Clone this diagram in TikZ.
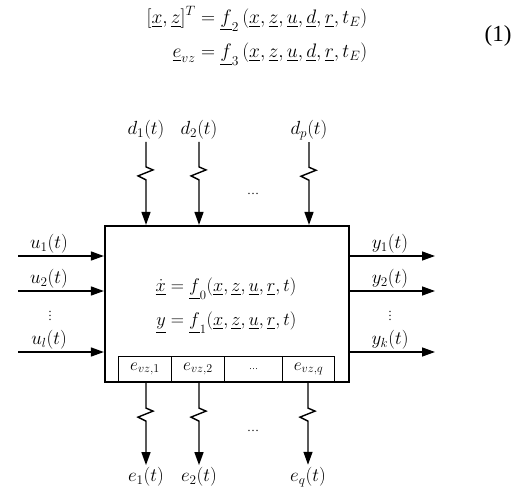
\RequirePackage{fix-cm}
\documentclass[tikz,border=0pt]{standalone}
\usepackage{amsmath}
\usepackage{fontspec}
\setmainfont{Liberation Serif}
\usetikzlibrary{arrows.meta}
\newcommand{\uv}[1]{\underline{#1}}
\begin{document}
\begin{tikzpicture}[x=1pt, y=1pt, >={Triangle[length=13pt, width=9pt]},
		sig/.style={->, line width=1.4pt},
		lbl/.style={font=\fontsize{17.28}{21}\selectfont, scale=1.1, inner sep=2pt},
		dots/.style={font=\fontsize{12}{14}\selectfont, inner sep=0pt, text height=8pt, text depth=0pt},
		cell/.style={draw, line width=1pt, minimum height=25, inner sep=0pt, font=\fontsize{17.28}{21}\selectfont}]
	\useasboundingbox (0,0) rectangle (519,491);
	
	% 1. 方程 (1)
	\node[font=\fontsize{20.74}{25}\selectfont, scale=0.94] (eqn) at (257,455)
		{$\begin{aligned}
			[\uv{x},\uv{z}]^T &= \uv{f}_2\,(\uv{x},\uv{z},\uv{u},\uv{d},\uv{r},t_E)\\[6pt]
			\uv{e}_{vz} &= \uv{f}_3\,(\uv{x},\uv{z},\uv{u},\uv{d},\uv{r},t_E)
		\end{aligned}$};
	\node[font=\fontsize{23}{26}\selectfont] (eqno) at (498,455) {(1)};
	
	% 2. 系统方框
	\node[draw, line width=2.2pt, minimum width=244, minimum height=156, inner sep=0pt] (box) at (227,187) {};
	\node[font=\fontsize{17.28}{21}\selectfont, scale=1.06] (fsys) at (226,186)
		{$\begin{aligned}
			\uv{\dot{x}} &= \uv{f}_0(\uv{x},\uv{z},\uv{u},\uv{r},t)\\[6pt]
			\uv{y} &= \uv{f}_1(\uv{x},\uv{z},\uv{u},\uv{r},t)
		\end{aligned}$};
	
	% 3. 误差格
	\foreach \n/\xa/\w/\lab in {c1/118/53/{$e_{vz,1}$}, c2/171/53/{$e_{vz,2}$}, c3/224/58/{\small\ldots}, cq/282/52/{$e_{vz,q}$}}
		\node[cell, minimum width=\w, anchor=south west] (\n) at (\xa,109) {\lab};
	
	% 4. 输入 u 与输出 y
	\foreach \n/\yy in {1/235, 2/200, l/139} {
		\coordinate (u\n) at (18,\yy);
		\draw[sig] (u\n) -- (u\n -| box.west);
		\node[lbl] (lu\n) at (49,\yy+12) {$u_\n(t)$};
	}
	\foreach \n/\yy in {1/235, 2/200, k/139} {
		\coordinate (y\n) at (435,\yy);
		\draw[sig] (y\n -| box.east) -- (y\n);
		\node[lbl] (ly\n) at (390,\yy+12) {$y_\n(t)$};
	}
	\node[dots] (vu) at (50,175) {$\vdots$};
	\node[dots] (vy) at (390,175) {$\vdots$};
	
	% 5. 扰动 d (上) 与误差 e (下)
	\foreach \n/\xx in {1/146, 2/199, p/309} {
		\node[lbl] (d\n) at (\xx,361) {$d_\n(t)$};
		\draw[sig] (d\n.south) -- ++(0,-25) -- ++(7,-3) -- ++(-15,-6) -- ++(8,-4) -- (d\n |- box.north);
	}
	\foreach \n/\xx in {1/146, 2/199, q/308} {
		\node[lbl] (e\n) at (\xx,14) {$e_\n(t)$};
		\draw[sig] (e\n |- box.south) -- ++(0,-25) -- ++(7,-3) -- ++(-15,-6) -- ++(8,-4) -- (e\n.north);
	}
	\node[dots] (dd) at (253,301) {\ldots};
	\node[dots] (de) at (253,64) {\ldots};
\end{tikzpicture}
\end{document}
